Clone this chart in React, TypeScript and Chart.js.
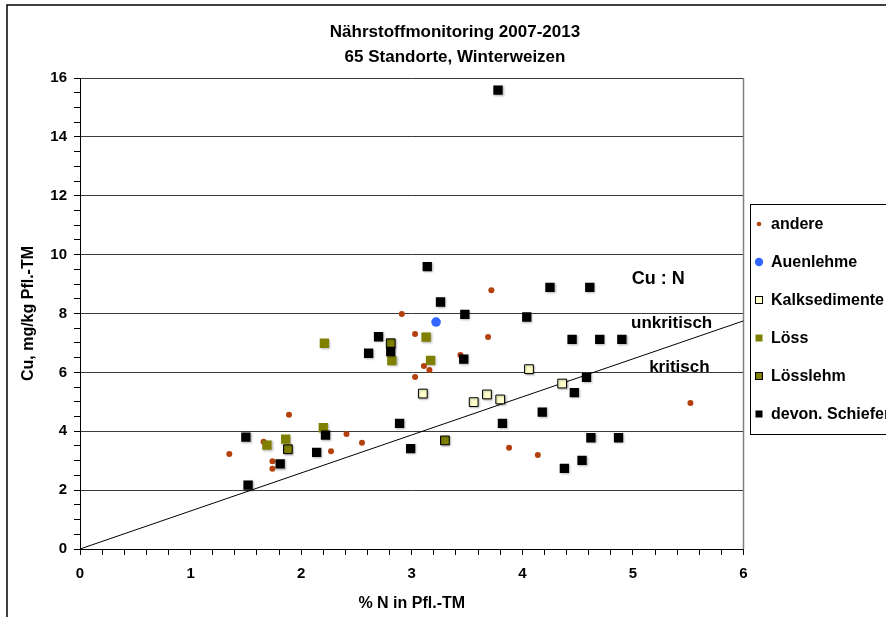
import React, { useEffect, useRef } from 'react';
import { Chart, registerables } from 'chart.js';

Chart.register(...registerables);

const FONT = '"Liberation Sans", Arial, Helvetica, sans-serif';

const titleLines = ['Nährstoffmonitoring 2007-2013', '65 Standorte, Winterweizen'];
const xAxisTitle = '% N in Pfl.-TM';
const yAxisTitle = 'Cu, mg/kg Pfl.-TM';

const seriesNames = ['andere', 'Auenlehme', 'Kalksedimente', 'Löss', 'Lösslehm', 'devon. Schiefer'];

const andere: number[][] = [
  [1.89, 4.56], [1.66, 3.64], [2.41, 3.91], [2.55, 3.61], [1.35, 3.23], [2.27, 3.32],
  [1.74, 2.98], [1.74, 2.73], [3.72, 8.79], [2.91, 7.98], [3.03, 7.30], [3.69, 7.20],
  [3.44, 6.59], [3.11, 6.22], [3.16, 6.08], [3.03, 5.84], [3.88, 3.44], [4.14, 3.19],
  [5.52, 4.96],
];
const auenlehme: number[][] = [[3.22, 7.71]];
const kalksedimente: number[][] = [
  [4.06, 6.11], [3.10, 5.28], [3.68, 5.25], [3.56, 4.99], [3.80, 5.08], [4.36, 5.62],
];
const loess: number[][] = [
  [2.21, 6.99], [2.20, 4.12], [1.69, 3.53], [1.86, 3.73], [3.13, 7.20], [2.82, 6.40], [3.17, 6.41],
];
const loesslehm: number[][] = [[1.88, 3.39], [2.81, 6.99], [3.30, 3.69]];
const devonSchiefer: number[][] = [
  [2.61, 6.65], [2.70, 7.21], [2.22, 3.87], [1.50, 3.80], [2.14, 3.28], [1.81, 2.89],
  [1.52, 2.17], [3.14, 9.59], [4.25, 8.89], [3.26, 8.39], [3.48, 7.97], [4.04, 7.88],
  [2.81, 6.71], [3.47, 6.45], [4.18, 4.65], [2.89, 4.27], [3.82, 4.27], [2.99, 3.41],
  [4.61, 8.89], [4.45, 7.12], [4.70, 7.12], [4.90, 7.12], [4.58, 5.83], [4.47, 5.31],
  [4.62, 3.78], [4.87, 3.78], [4.54, 3.01], [4.38, 2.74], [3.78, 15.59],
];
const grenzLinie: number[][] = [[0, 0], [6, 7.75]];

const annotations = [
  { text: 'Cu : N', x: 5.23, y: 9.17, size: 18 },
  { text: 'unkritisch', x: 5.35, y: 7.68, size: 17 },
  { text: 'kritisch', x: 5.42, y: 6.18, size: 17 },
];

const xMin = 0, xMax = 6, xMinorStep = 0.2;
const yMin = 0, yMax = 16, yMinorStep = 0.5, yMajorStep = 2;

const toXY = (arr: number[][]) => arr.map(([x, y]) => ({ x, y }));

const LINE_LABEL = 'Cu:N-Grenze';

function drawMarker(ctx: CanvasRenderingContext2D, ds: any, cx: number, cy: number) {
  ctx.save();
  ctx.fillStyle = ds.backgroundColor;
  ctx.strokeStyle = ds.borderColor;
  ctx.lineWidth = ds.borderWidth || 0;
  if (ds.pointStyle === 'circle') {
    const r = ds.legendRadius;
    ctx.beginPath();
    ctx.arc(cx, cy, r, 0, Math.PI * 2);
    ctx.fill();
  } else {
    const s = 7;
    ctx.fillRect(cx - s / 2, cy - s / 2, s, s);
    if (ds.borderWidth) ctx.strokeRect(cx - s / 2, cy - s / 2, s, s);
  }
  ctx.restore();
}

const decorPlugin = {
  id: 'decor',
  beforeDatasetsDraw(chart: any) {
    const { ctx, chartArea: a } = chart;
    ctx.save();
    ctx.strokeStyle = '#808080';
    ctx.lineWidth = 1.5;
    ctx.beginPath();
    ctx.moveTo(a.right, a.top);
    ctx.lineTo(a.right, a.bottom);
    ctx.stroke();
    ctx.restore();
  },
  beforeDatasetDraw(chart: any, args: any) {
    const ds = chart.data.datasets[args.index];
    chart.ctx.save();
    if (ds.pointStyle === 'rect') {
      chart.ctx.shadowColor = 'rgba(0,0,0,0.3)';
      chart.ctx.shadowOffsetX = 1;
      chart.ctx.shadowOffsetY = 1;
      chart.ctx.shadowBlur = 2;
    }
  },
  afterDatasetDraw(chart: any) {
    chart.ctx.restore();
  },
  afterDraw(chart: any) {
    const { ctx, scales } = chart;
    ctx.save();
    // outer frame
    ctx.strokeStyle = '#000';
    ctx.lineWidth = 1.5;
    ctx.strokeRect(7, 5, 1200, 1200);

    // title
    ctx.fillStyle = '#000';
    ctx.textAlign = 'center';
    ctx.textBaseline = 'alphabetic';
    ctx.font = `bold 17px ${FONT}`;
    ctx.fillText(titleLines[0], 455, 37);
    ctx.fillText(titleLines[1], 455, 62);

    // annotations
    annotations.forEach((a) => {
      ctx.font = `bold ${a.size}px ${FONT}`;
      ctx.textBaseline = 'middle';
      ctx.fillText(a.text, scales.x.getPixelForValue(a.x), scales.y.getPixelForValue(a.y));
    });

    // legend
    const lx = 750, ly = 204, lh = 230, rowH = 38, firstRow = 224;
    ctx.fillStyle = '#fff';
    ctx.fillRect(lx, ly, 400, lh);
    ctx.strokeStyle = '#000';
    ctx.lineWidth = 1;
    ctx.strokeRect(lx + 0.5, ly + 0.5, 400, lh);
    let row = 0;
    chart.data.datasets.forEach((ds: any) => {
      if (ds.label === LINE_LABEL) return;
      const cy = firstRow + row * rowH;
      drawMarker(ctx, ds, 759, cy);
      ctx.fillStyle = '#000';
      ctx.font = `bold 16px ${FONT}`;
      ctx.textAlign = 'left';
      ctx.textBaseline = 'middle';
      ctx.fillText(ds.label, 771, cy + 1);
      row++;
    });
    ctx.restore();
  },
};

export default function App() {
  const canvasRef = useRef<HTMLCanvasElement | null>(null);

  useEffect(() => {
    const canvas = canvasRef.current;
    if (!canvas) return;
    const isInt = (v: number, step: number) => Math.abs(v / step - Math.round(v / step)) < 1e-6;

    const chart = new Chart(canvas, {
      type: 'scatter',
      data: {
        datasets: [
          { label: seriesNames[0], data: toXY(andere), pointStyle: 'circle', pointRadius: 3, legendRadius: 2.3,
            backgroundColor: '#B4410D', borderColor: '#B4410D', borderWidth: 0, order: 6 } as any,
          { label: seriesNames[1], data: toXY(auenlehme), pointStyle: 'circle', pointRadius: 4.8, legendRadius: 4.2,
            backgroundColor: '#3366FF', borderColor: '#3366FF', borderWidth: 0, order: 5 } as any,
          { label: seriesNames[2], data: toXY(kalksedimente), pointStyle: 'rect', pointRadius: 6.2,
            backgroundColor: '#FFFFCC', borderColor: '#000000', borderWidth: 1, order: 4 } as any,
          { label: seriesNames[3], data: toXY(loess), pointStyle: 'rect', pointRadius: 6.6,
            backgroundColor: '#808000', borderColor: '#808000', borderWidth: 0, order: 3 } as any,
          { label: seriesNames[4], data: toXY(loesslehm), pointStyle: 'rect', pointRadius: 6.2,
            backgroundColor: '#808000', borderColor: '#000000', borderWidth: 1, order: 2 } as any,
          { label: seriesNames[5], data: toXY(devonSchiefer), pointStyle: 'rect', pointRadius: 6.6,
            backgroundColor: '#000000', borderColor: '#000000', borderWidth: 0, order: 1 } as any,
          { label: LINE_LABEL, data: toXY(grenzLinie), showLine: true, pointRadius: 0,
            borderColor: '#000000', borderWidth: 1, order: 7 } as any,
        ],
      },
      options: {
        responsive: false,
        animation: false,
        events: [],
        layout: { padding: { left: 0, top: 78, right: 142.5, bottom: 0 } },
        plugins: {
          legend: { display: false },
          title: { display: false },
          tooltip: { enabled: false },
        },
        scales: {
          x: {
            type: 'linear',
            min: xMin,
            max: xMax,
            afterFit: (s: any) => { s.height = 68; },
            afterBuildTicks: (s: any) => {
              const t = [];
              for (let v = xMin; v <= xMax + 1e-9; v += xMinorStep) t.push({ value: Math.round(v * 10) / 10 });
              s.ticks = t;
            },
            ticks: {
              autoSkip: false,
              maxRotation: 0,
              padding: 10,
              color: '#000',
              font: { family: FONT, size: 15, weight: 'bold' },
              callback: (v: any) => (isInt(v, 1) ? String(Math.round(v)) : ''),
            },
            grid: { drawOnChartArea: false, tickLength: 6, color: '#000', tickColor: '#000' },
            border: { display: true, color: '#000', width: 1 },
            title: {
              display: true,
              text: xAxisTitle,
              color: '#000',
              font: { family: FONT, size: 16, weight: 'bold', lineHeight: 1.2 },
              padding: { top: 0, bottom: 4 },
            },
          },
          y: {
            type: 'linear',
            min: yMin,
            max: yMax,
            afterFit: (s: any) => { s.width = 80; },
            afterBuildTicks: (s: any) => {
              const t = [];
              for (let v = yMin; v <= yMax + 1e-9; v += yMinorStep) t.push({ value: v });
              s.ticks = t;
            },
            ticks: {
              autoSkip: false,
              padding: 7,
              color: '#000',
              font: { family: FONT, size: 15, weight: 'bold' },
              callback: (v: any) => (isInt(v, yMajorStep) ? String(v) : ''),
            },
            grid: {
              tickLength: 6,
              color: (c: any) => (c.tick && isInt(c.tick.value, yMajorStep) && c.tick.value !== 0 ? '#3a3a3a' : 'rgba(0,0,0,0)'),
              tickColor: '#000',
              lineWidth: 1,
            },
            border: { display: true, color: '#000', width: 1 },
            title: {
              display: true,
              text: yAxisTitle,
              color: '#000',
              font: { family: FONT, size: 16, weight: 'bold', lineHeight: 1.2 },
              padding: { top: 19, bottom: 0 },
            },
          },
        },
      },
      plugins: [decorPlugin],
    } as any);

    return () => chart.destroy();
  }, []);

  return (
    <div style={{ position: 'fixed', left: 0, top: 0, width: 886, height: 617, background: '#fff' }}>
      <canvas ref={canvasRef} width={886} height={617} style={{ display: 'block' }} />
    </div>
  );
}
